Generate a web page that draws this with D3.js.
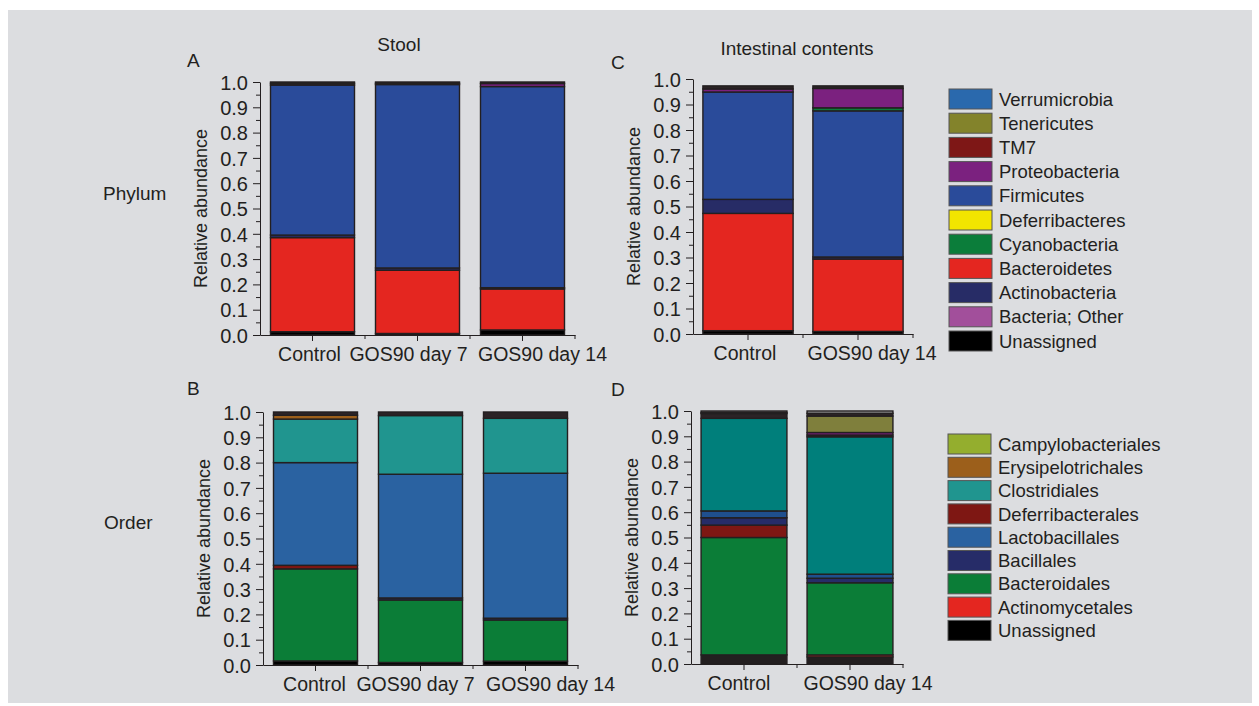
<!DOCTYPE html>
<html>
<head>
<meta charset="utf-8">
<script src="https://cdn.jsdelivr.net/npm/d3@7/dist/d3.min.js"></script>
<style>
  body { margin: 0; background: #fff; }
  text { font-family: "Liberation Sans", Arial, sans-serif; fill: #231f20; }
</style>
</head>
<body>
<div id="chart"></div>
<script>
// groups on the x axis
var stoolGroups = ["Control", "GOS90 day 7", "GOS90 day 14"];
var gutGroups = ["Control", "GOS90 day 14"];

// stacking order, bottom to top
var phylumKeys = ["Unassigned", "Bacteroidetes", "Actinobacteria", "Firmicutes", "Cyanobacteria",
                  "Proteobacteria", "Other", "TM7", "Tenericutes"];
var orderKeys = ["Unassigned", "Actinomycetales", "Bacteroidales", "Deferribacterales", "Bacillales",
                 "Lactobacillales", "Clostridiales", "Erysipelotrichales", "Other", "Enterobacteriales",
                 "Anaeroplasmatales", "Unclassified", "Low abundance"];

// relative abundance of each segment, in key order (one array per bar)
var stoolPhylumControl = [0.013, 0.372, 0.010, 0.593, 0, 0, 0.007, 0, 0.005];
var stoolPhylumDay7    = [0.006, 0.250, 0.009, 0.725, 0, 0, 0.005, 0, 0.005];
var stoolPhylumDay14   = [0.020, 0.162, 0.005, 0.795, 0, 0.012, 0.006, 0, 0];

var gutPhylumControl = [0.013, 0.460, 0.055, 0.421, 0, 0.012, 0.012, 0, 0];
var gutPhylumDay14   = [0.010, 0.284, 0.008, 0.573, 0.012, 0.076, 0.010, 0, 0];

var stoolOrderControl = [0.016, 0, 0.364, 0.014, 0, 0.406, 0.172, 0.015, 0.013, 0, 0, 0, 0];
var stoolOrderDay7    = [0.010, 0, 0.247, 0, 0.008, 0.489, 0.232, 0, 0.014, 0, 0, 0, 0];
var stoolOrderDay14   = [0.015, 0, 0.163, 0, 0.007, 0.573, 0.217, 0, 0.025, 0, 0, 0, 0];

var gutOrderControl = [0.036, 0, 0.464, 0.049, 0.029, 0.027, 0.366, 0, 0.019, 0, 0.004, 0, 0.006];
var gutOrderDay14   = [0.028, 0.008, 0.285, 0, 0.018, 0.016, 0.543, 0, 0.007, 0.010, 0.065, 0.011, 0.009];

// legends, top to bottom
var phylumLegend = ["Verrumicrobia", "Tenericutes", "TM7", "Proteobacteria", "Firmicutes", "Deferribacteres",
                    "Cyanobacteria", "Bacteroidetes", "Actinobacteria", "Bacteria; Other", "Unassigned"];
var orderLegend = ["Campylobacteriales", "Erysipelotrichales", "Clostridiales", "Deferribacterales",
                   "Lactobacillales", "Bacillales", "Bacteroidales", "Actinomycetales", "Unassigned"];

var yTicks = [0, 0.1, 0.2, 0.3, 0.4, 0.5, 0.6, 0.7, 0.8, 0.9, 1.0];

var phylumColors = {
  "Verrumicrobia": "#2a69ad", "Tenericutes": "#83832b", "TM7": "#7e1716", "Proteobacteria": "#7b217f",
  "Firmicutes": "#2a4b9a", "Deferribacteres": "#f2e500", "Cyanobacteria": "#0b7d3a",
  "Bacteroidetes": "#e42620", "Actinobacteria": "#272c66", "Bacteria; Other": "#a24f9b",
  "Unassigned": "#000000", "Other": "#2b2326"
};
var orderColors = {
  "Campylobacteriales": "#94ae2e", "Erysipelotrichales": "#9c5f1b", "Clostridiales": "#20958f",
  "Deferribacterales": "#7e1713", "Lactobacillales": "#2a62a1", "Bacillales": "#262c68",
  "Bacteroidales": "#0b7d37", "Actinomycetales": "#e42620", "Unassigned": "#000000",
  "Other": "#2b2326", "Enterobacteriales": "#7b217f", "Anaeroplasmatales": "#7f7f3c",
  "Unclassified": "#2b2326", "Low abundance": "#a3a3a5"
};
// panel D was drawn with a slightly darker palette
var gutOrderColors = Object.assign({}, orderColors, {
  "Clostridiales": "#007f7b", "Lactobacillales": "#1f4f8e", "Unassigned": "#231f20"
});

var W = 1259, H = 706;
var ink = "#231f20";

var svg = d3.select("#chart").append("svg")
  .attr("width", W)
  .attr("height", H);

svg.append("rect")
  .attr("x", 8).attr("y", 10)
  .attr("width", 1244).attr("height", 693)
  .attr("fill", "#dcdde0");

function drawPanel(p){
  var rows = p.groups.map(function(g, i){
    var r = {group: g};
    p.keys.forEach(function(k, j){ r[k] = p.values[i][j]; });
    return r;
  });
  var series = d3.stack().keys(p.keys)(rows);

  var n = p.groups.length;
  var x = d3.scaleBand()
    .domain(p.groups)
    .range([p.x0, p.x1])
    .paddingInner(p.pad)
    .paddingOuter(p.pad / 2);
  var y = d3.scaleLinear().domain([0, 1]).range([p.y0, p.y1]);

  var g = svg.append("g");

  g.selectAll("g.layer")
    .data(series)
    .enter().append("g")
    .attr("class", "layer")
    .attr("fill", function(d){ return p.colors[d.key]; })
    .selectAll("rect")
    .data(function(d){ return d.filter(function(s){ return s[1] - s[0] > 0; }); })
    .enter().append("rect")
    .attr("x", function(d){ return x(d.data.group); })
    .attr("width", x.bandwidth())
    .attr("y", function(d){ return y(d[1]); })
    .attr("height", function(d){ return y(d[0]) - y(d[1]); })
    .attr("stroke", ink)
    .attr("stroke-width", 1.4);

  // y axis, major + minor ticks
  var yAxis = g.append("g")
    .attr("transform", "translate(" + p.x0 + ",0)")
    .call(d3.axisLeft(y).tickValues(yTicks).tickFormat(d3.format(".1f"))
      .tickSize(7).tickPadding(5).tickSizeOuter(0));
  yAxis.selectAll("text").style("font-size", "20px").attr("dy", "0.36em");
  g.append("g")
    .attr("transform", "translate(" + p.x0 + ",0)")
    .call(d3.axisLeft(y).tickValues(d3.range(0.05, 1, 0.1)).tickFormat("").tickSize(4).tickSizeOuter(0))
    .select(".domain").remove();

  // x axis; the long labels are nudged sideways so they do not collide
  var xAxis = g.append("g")
    .attr("transform", "translate(0," + p.y0 + ")")
    .call(d3.axisBottom(x).tickSize(6).tickPadding(6).tickSizeOuter(0));
  xAxis.selectAll("text")
    .style("font-size", "19.5px")
    .attr("dx", function(d, i){ return p.labelShift[i]; });
  var step = (p.x1 - p.x0) / n;
  g.selectAll("line.sep")
    .data(d3.range(1, n + 1))
    .enter().append("line")
    .attr("x1", function(i){ return p.x0 + i * step; })
    .attr("x2", function(i){ return p.x0 + i * step; })
    .attr("y1", p.y0).attr("y2", p.y0 + 4)
    .attr("stroke", ink);

  svg.selectAll(".domain, .tick line").attr("stroke", ink);

  g.append("text")
    .attr("transform", "translate(" + (p.x0 - 59) + "," + ((p.y0 + p.y1) / 2) + ") rotate(-90)")
    .attr("text-anchor", "middle")
    .attr("dy", "0.35em")
    .style("font-size", "18px")
    .text("Relative abundance");

  g.append("text")
    .attr("x", p.letterX).attr("y", p.letterY)
    .style("font-size", "19px")
    .text(p.letter);
}

drawPanel({letter: "A", letterX: 187, letterY: 67, groups: stoolGroups, keys: phylumKeys,
  values: [stoolPhylumControl, stoolPhylumDay7, stoolPhylumDay14], colors: phylumColors,
  x0: 260, x1: 575, y0: 335, y1: 82, pad: 0.2, labelShift: [-3, -9, 20]});
drawPanel({letter: "C", letterX: 611, letterY: 69, groups: gutGroups, keys: phylumKeys,
  values: [gutPhylumControl, gutPhylumDay14], colors: phylumColors,
  x0: 693, x1: 913, y0: 334, y1: 79, pad: 0.18, labelShift: [-3, 14]});
drawPanel({letter: "B", letterX: 187, letterY: 395, groups: stoolGroups, keys: orderKeys,
  values: [stoolOrderControl, stoolOrderDay7, stoolOrderDay14], colors: orderColors,
  x0: 263, x1: 578, y0: 665, y1: 412, pad: 0.2, labelShift: [-1, -5, 25]});
drawPanel({letter: "D", letterX: 611, letterY: 396, groups: gutGroups, keys: orderKeys,
  values: [gutOrderControl, gutOrderDay14], colors: gutOrderColors,
  x0: 691, x1: 903, y0: 664, y1: 411, pad: 0.19, labelShift: [-5, 18]});

// column and row titles
svg.append("text").attr("x", 399).attr("y", 51).attr("text-anchor", "middle")
  .style("font-size", "19px").text("Stool");
svg.append("text").attr("x", 797).attr("y", 55).attr("text-anchor", "middle")
  .style("font-size", "19px").text("Intestinal contents");
svg.append("text").attr("x", 103).attr("y", 200).style("font-size", "19px").text("Phylum");
svg.append("text").attr("x", 104).attr("y", 529).style("font-size", "19px").text("Order");

function drawLegend(items, colors, x, y, step){
  var lg = svg.append("g").attr("transform", "translate(" + x + "," + y + ")");
  var row = lg.selectAll("g")
    .data(items)
    .enter().append("g")
    .attr("transform", function(d, i){ return "translate(0," + (i * step) + ")"; });
  row.append("rect")
    .attr("width", 43).attr("height", 20)
    .attr("fill", function(d){ return colors[d]; })
    .attr("stroke", "#555").attr("stroke-width", 1);
  row.append("text")
    .attr("x", 50).attr("y", 10).attr("dy", "0.36em")
    .style("font-size", "18.5px")
    .text(function(d){ return d; });
}

drawLegend(phylumLegend, phylumColors, 949, 89, 24.2);
drawLegend(orderLegend, orderColors, 948, 434, 23.3);
</script>
</body>
</html>
